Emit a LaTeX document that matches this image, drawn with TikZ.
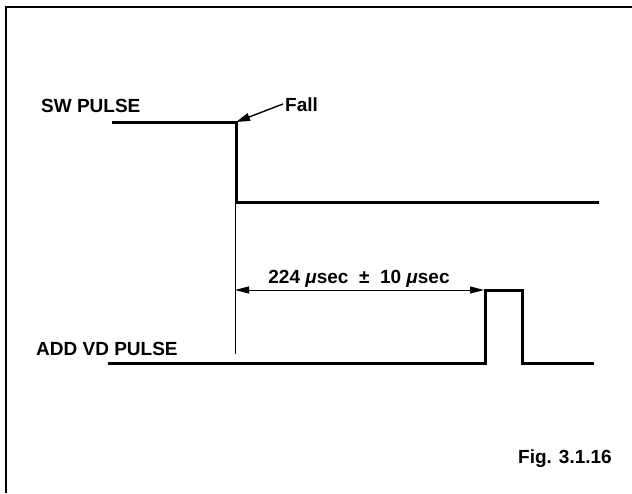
\documentclass[tikz,border=0pt]{standalone}
\usepackage{fontspec}
\setmainfont{Liberation Sans}
\usetikzlibrary{arrows.meta}
\begin{document}
\begin{tikzpicture}[x=1pt,y=-1pt,
  lbl/.style={font=\fontsize{19}{22}\selectfont\bfseries, inner sep=0pt},
  sig/.style={line width=3pt, line join=miter, line cap=butt},
  thinline/.style={line width=1pt},
  tip/.style={-{Triangle[length=14pt,width=8pt]}},
  frame/.style={line width=2.2pt}]
\useasboundingbox (0,0) rectangle (632,493);
\draw[frame] (6,493) -- (6,7) -- (632,7);
% SW pulse
\coordinate (swA) at (112,122);
\coordinate (swB) at (236,122);
\coordinate (swC) at (236,202);
\coordinate (swD) at (599,202);
\draw[sig] (swA) -- (swB) -- (swC) -- (swD);
% ADD VD pulse
\coordinate (adA) at (108,363);
\coordinate (adB) at (485,363);
\coordinate (adC) at (485,290);
\coordinate (adD) at (522,290);
\coordinate (adE) at (522,363);
\coordinate (adF) at (594,363);
\draw[sig] (adA) -- (adB) -- (adC) -- (adD) -- (adE) -- (adF);
% labels
\node[lbl, anchor=base west] (sw) at (41,112) {SW PULSE};
\node[lbl, anchor=base west] (ad) at (36,355) {ADD VD PULSE};
\node[lbl, anchor=base west] (fall) at (285,111) {Fall};
\node[lbl, anchor=base east] (fig) at (612,463) {Fig. 3.1.16};
% fall arrow
\coordinate (fallTail) at (283,104);
\draw[thinline, line width=1.4pt, tip] (fallTail) -- (swB);
% dimension
\coordinate (dimTop) at (235,204);
\coordinate (dimBot) at (235,354);
\draw[thinline] (dimTop) -- (dimBot);
\coordinate (dimL) at (235,290);
\coordinate (dimR) at (484,290);
\draw[thinline, {Triangle[length=14pt,width=7pt]}-{Triangle[length=14pt,width=7pt]}] (dimL) -- (dimR);
\node[lbl, anchor=base] (dimtext) at (359,283) {224 {\itshape μ}sec \ ± \ 10 {\itshape μ}sec};
\end{tikzpicture}
\end{document}
